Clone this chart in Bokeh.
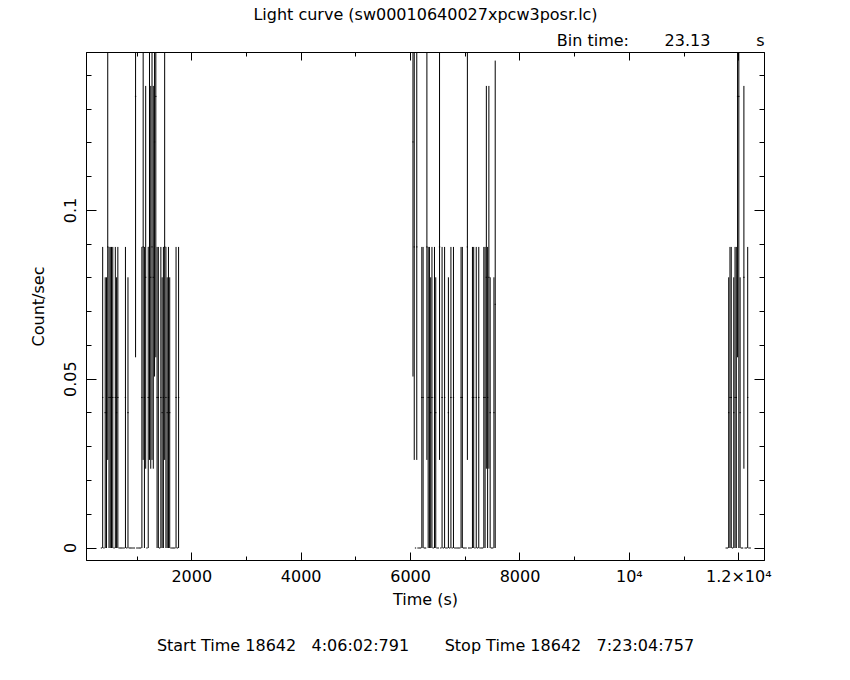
from bokeh.plotting import figure
from bokeh.models import ColumnDataSource, LinearAxis, FixedTicker, Title
from bokeh.embed import file_html
from bokeh.resources import INLINE

FONT = "DejaVu Sans"
FS = "16px"
NB = "\u00a0"

# ---------------- data ----------------
BIN_TIME = 23.13  # s

seg1_start = 336.0
seg1_rate = [
    0, 0.0446, 0, 0.0401, 0.0401, 0.0892, 0.0446, 0.0446, 0.0446, 0.0446,
    0, 0.0446, 0.0401, 0.0446, 0, 0, 0, 0, 0, 0.0446,
    0, 0.0401, 0, 0, 0, 0, 0, 0.1338, 0, 0,
    0, 0, 0.0446, 0.0892, 0.0446, 0.0802, 0, 0.0446, 0.0892, 0.0802,
    0.0892, 0.0802, 0.1203, 0.1338, 0.0446, 0.0446, 0, 0.0446, 0.0401, 0.0446,
    0.0892, 0.0446, 0.0401, 0.0446, 0.0401, 0, 0, 0, 0, 0.0446,
    0, 0.0446]
seg1_err = [
    0, 0.0446, 0, 0.0401, 0.0401, 0.0631, 0.0446, 0.0446, 0.0446, 0.0446,
    0, 0.0446, 0.0401, 0.0446, 0, 0, 0, 0, 0, 0.0446,
    0, 0.0401, 0, 0, 0, 0, 0, 0.0773, 0, 0,
    0, 0, 0.0446, 0.0631, 0.0446, 0.0567, 0, 0.0446, 0.0631, 0.0567,
    0.0631, 0.0567, 0.0695, 0.0773, 0.0446, 0.0446, 0, 0.0446, 0.0401, 0.0446,
    0.0631, 0.0446, 0.0401, 0.0446, 0.0401, 0, 0, 0, 0, 0.0446,
    0, 0.0446]

seg2_start = 6032.0
seg2_rate = [
    0.1203, 0.0892, 0, 0.0892, 0, 0, 0, 0.0446, 0.0446, 0,
    0, 0.0892, 0.0446, 0.0446, 0.0401, 0.0446, 0, 0.0446, 0.0401, 0,
    0, 0.0892, 0, 0.0446, 0, 0.0446, 0, 0, 0.0401, 0,
    0.0446, 0, 0.0446, 0, 0, 0, 0, 0, 0.0446, 0.0446,
    0, 0, 0, 0.0892, 0, 0, 0, 0.0446, 0.0446, 0,
    0.0446, 0, 0.0446, 0, 0, 0, 0.0446, 0.0446, 0.0802, 0.0446,
    0.0802, 0.0401, 0, 0, 0.0401, 0.0722]
seg2_err = [
    0.0695, 0.0631, 0, 0.0631, 0, 0, 0, 0.0446, 0.0446, 0,
    0, 0.0631, 0.0446, 0.0446, 0.0401, 0.0446, 0, 0.0446, 0.0401, 0,
    0, 0.0631, 0, 0.0446, 0, 0.0446, 0, 0, 0.0401, 0,
    0.0446, 0, 0.0446, 0, 0, 0, 0, 0, 0.0446, 0.0446,
    0, 0, 0, 0.0631, 0, 0, 0, 0.0446, 0.0446, 0,
    0.0446, 0, 0.0446, 0, 0, 0, 0.0446, 0.0446, 0.0567, 0.0446,
    0.0567, 0.0401, 0, 0, 0.0401, 0.0722]

seg3_start = 11758.0
seg3_rate = [0, 0, 0.0401, 0.0446, 0.0446, 0, 0.0401, 0.0446, 0.0446, 0.1338,
             0.1338, 0.0401, 0, 0, 0.0802, 0, 0, 0.0446, 0, 0]
seg3_err = [0, 0, 0.0401, 0.0446, 0.0446, 0, 0.0401, 0.0446, 0.0446, 0.0773,
            0.1338, 0.0401, 0, 0, 0.0567, 0, 0, 0.0446, 0, 0]

x_major_ticks = [2000, 4000, 6000, 8000, 10000, 12000]
x_minor_ticks = [1000, 3000, 5000, 7000, 9000, 11000]
x_tick_labels = ["2000", "4000", "6000", "8000", "10\u2074", "1.2\u00d710\u2074"]
y_major_ticks = [0, 0.05, 0.1]
y_minor_ticks = [0.01, 0.02, 0.03, 0.04, 0.06, 0.07, 0.08, 0.09, 0.11, 0.12, 0.13, 0.14]
y_tick_labels = ["0", "0.05", "0.1"]

title_text = "Light curve (sw00010640027xpcw3posr.lc)"
start_day, start_clock = "Start Time 18642", "4:06:02:791"
stop_day, stop_clock = "Stop Time 18642", "7:23:04:757"

# ---------------- build columns ----------------
t, r, lo, hi, x0, x1 = [], [], [], [], [], []
for start, rates, errs in [(seg1_start, seg1_rate, seg1_err),
                           (seg2_start, seg2_rate, seg2_err),
                           (seg3_start, seg3_rate, seg3_err)]:
    for i, (rr, ee) in enumerate(zip(rates, errs)):
        tc = start + (i + 0.5) * BIN_TIME
        t.append(tc)
        r.append(rr)
        lo.append(rr - ee)
        hi.append(rr + ee)
        x0.append(tc - BIN_TIME / 2)
        x1.append(tc + BIN_TIME / 2)
src = ColumnDataSource(dict(t=t, r=r, lo=lo, hi=hi, x0=x0, x1=x1))

p = figure(width=834, height=664, frame_width=678, frame_height=508,
           min_border_left=86, min_border_right=70,
           min_border_top=52, min_border_bottom=104,
           x_range=(75, 12470), y_range=(-0.0037, 0.1468),
           output_backend="svg", toolbar_location=None, tools="")
p.title.visible = False
p.xgrid.visible = False
p.ygrid.visible = False
p.outline_line_color = "black"
p.background_fill_color = "white"
p.border_fill_color = "white"

p.segment(x0="t", y0="lo", x1="t", y1="hi", source=src,
          line_color="black", line_width=1)
p.segment(x0="x0", y0="r", x1="x1", y1="r", source=src,
          line_color="black", line_width=1)

xticker = FixedTicker(ticks=x_major_ticks, minor_ticks=x_minor_ticks)
yticker = FixedTicker(ticks=y_major_ticks, minor_ticks=y_minor_ticks)


def style(ax, maj, mnr):
    ax.axis_line_color = "black"
    ax.axis_line_width = 1
    ax.major_tick_in = maj
    ax.major_tick_out = 0
    ax.minor_tick_in = mnr
    ax.minor_tick_out = 0
    ax.major_tick_line_color = "black"
    ax.minor_tick_line_color = "black"
    ax.major_label_text_font = FONT
    ax.major_label_text_font_size = FS
    ax.major_label_text_color = "black"
    ax.axis_label_text_font = FONT
    ax.axis_label_text_font_size = FS
    ax.axis_label_text_font_style = "normal"
    ax.axis_label_text_color = "black"


xa = p.xaxis[0]
xa.ticker = xticker
style(xa, 8, 4)
xa.major_label_overrides = dict(zip(x_major_ticks, x_tick_labels))
xa.axis_label = "Time (s)"
xa.major_label_standoff = 6
xa.axis_label_standoff = 1

ya = p.yaxis[0]
ya.ticker = yticker
style(ya, 10, 5)
ya.major_label_overrides = dict(zip(y_major_ticks, y_tick_labels))
ya.major_label_orientation = "vertical"
ya.axis_label = "Count/sec"
ya.major_label_standoff = 10
ya.axis_label_standoff = 14

top = LinearAxis(ticker=xticker)
style(top, 8, 4)
top.major_label_overrides = {v: "" for v in x_major_ticks}
top.major_label_text_font_size = "0px"
top.major_label_standoff = 0
p.add_layout(top, "above")

right = LinearAxis(ticker=yticker)
style(right, 10, 5)
right.major_label_overrides = {v: "" for v in y_major_ticks}
right.major_label_text_font_size = "0px"
right.major_label_standoff = 0
p.add_layout(right, "right")


def title(text, align, standoff):
    return Title(text=text, align=align, standoff=standoff,
                 text_font=FONT, text_font_size=FS, text_font_style="normal",
                 text_color="black")


bin_line = "Bin time:" + NB * 7 + f"{BIN_TIME:.2f}" + NB * 9 + "s"
time_line = (start_day + NB * 3 + start_clock + NB * 7 +
             stop_day + NB * 3 + stop_clock)

p.add_layout(title(bin_line, "right", 6), "above")
p.add_layout(title(title_text, "center", 3), "above")
p.add_layout(title(time_line, "center", 44), "below")

open("out.html", "w").write(file_html(p, INLINE))
